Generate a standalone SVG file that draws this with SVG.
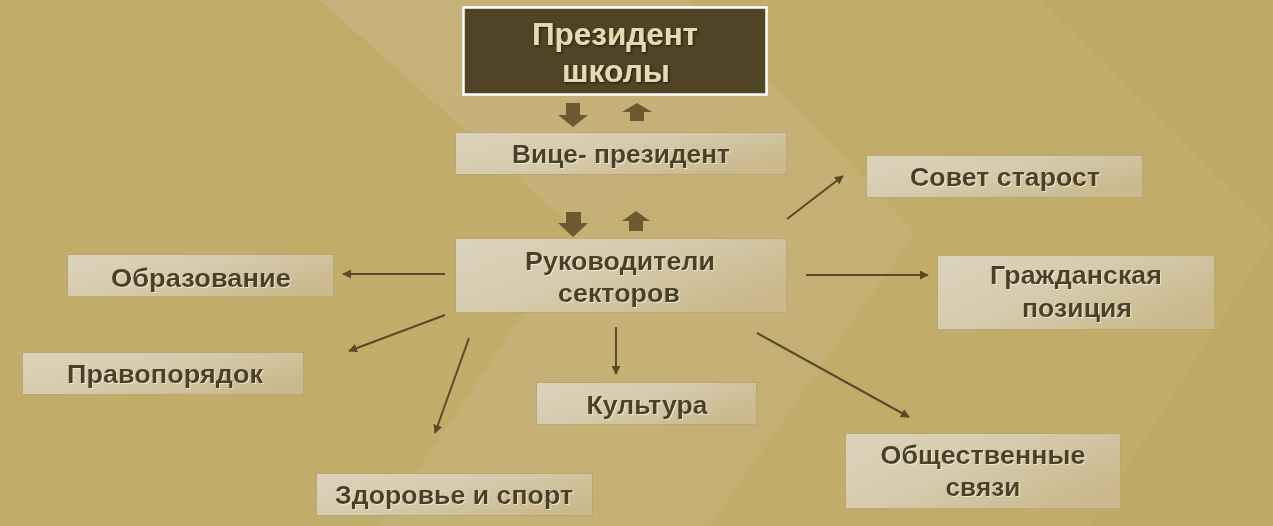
<svg xmlns="http://www.w3.org/2000/svg" width="1273" height="526" viewBox="0 0 1273 526">
<defs>
<linearGradient id="boxg" x1="0" y1="0" x2="1" y2="0.6">
<stop offset="0" stop-color="#DCD3BC"/>
<stop offset="0.5" stop-color="#D6CBAE"/>
<stop offset="1" stop-color="#CABA8E"/>
</linearGradient>
<linearGradient id="bandg" x1="0" y1="0" x2="1" y2="1">
<stop offset="0" stop-color="#C6B27A"/>
<stop offset="1" stop-color="#C4AF72"/>
</linearGradient>
<filter id="emb" x="-5%" y="-20%" width="110%" height="140%">
<feDropShadow dx="1" dy="1" stdDeviation="0.4" flood-color="#F4EEDC" flood-opacity="0.8"/>
</filter>
<filter id="glow" x="-5%" y="-20%" width="110%" height="140%">
<feDropShadow dx="1" dy="1" stdDeviation="0.8" flood-color="#1E180A" flood-opacity="1"/>
</filter>
<marker id="ah" viewBox="0 0 10 10" refX="9" refY="5" markerWidth="4.5" markerHeight="4.5" orient="auto" markerUnits="strokeWidth">
<path d="M0,0 L10,5 L0,10 Z" fill="#5A4A26"/>
</marker>
<style>
.box{fill:url(#boxg);stroke:#B9A771;stroke-width:1}
.t{font-family:"Liberation Sans",Arial,sans-serif;font-weight:bold;font-size:25px;fill:#4A4025;text-anchor:middle;filter:url(#emb)}
.pt{font-family:"Liberation Sans",Arial,sans-serif;font-weight:bold;font-size:31px;fill:#E5DBB0;text-anchor:middle;filter:url(#glow)}
.c{stroke:#5A4A26;stroke-width:2;fill:none;marker-end:url(#ah)}
.blk{fill:#6B5A2F}
</style>
</defs>
<rect x="0" y="0" width="1273" height="526" fill="#C1AC6A"/>
<polygon points="1040,0 1273,0 1273,526 1090,526 1273,238 1273,232" fill="#BBA564" opacity="0.35"/>
<polygon points="320,0 690,0 915,232 710,526 380,526 578,232" fill="url(#bandg)"/>

<g id="connectors">
<path class="blk" d="M566,103 H580 V115 H588 L573,127 L558,115 H566 Z"/>
<path class="blk" d="M630,121 V112 H622 L637,103 L652,112 H644 V121 Z"/>
<path class="blk" d="M566,212 H581 V223 H588 L573,237 L558,223 H566 Z"/>
<path class="blk" d="M629,231 V221 H622 L636,211 L650,221 H643 V231 Z"/>
<line class="c" x1="445" y1="274" x2="343" y2="274"/>
<line class="c" x1="445" y1="315" x2="349" y2="351"/>
<line class="c" x1="469" y1="338" x2="435" y2="433"/>
<line class="c" x1="616" y1="327" x2="616" y2="374"/>
<line class="c" x1="757" y1="333" x2="909" y2="417"/>
<line class="c" x1="806" y1="275" x2="928" y2="275"/>
<line class="c" x1="787" y1="219" x2="843" y2="176"/>
</g>

<g id="president">
<rect x="463.5" y="7.5" width="303" height="87" fill="#4F4426" stroke="#FFFFFF" stroke-width="2.5"/>
<text class="pt" x="615" y="45" textLength="166" lengthAdjust="spacingAndGlyphs">Президент</text>
<text class="pt" x="616" y="82" textLength="108" lengthAdjust="spacingAndGlyphs">школы</text>
</g>

<g id="vice">
<rect class="box" x="455.5" y="132.5" width="331" height="42"/>
<text class="t" x="621" y="163" textLength="218" lengthAdjust="spacingAndGlyphs">Вице- президент</text>
</g>

<g id="heads">
<rect class="box" x="455.5" y="238.5" width="331" height="74"/>
<text class="t" x="620" y="270" textLength="190" lengthAdjust="spacingAndGlyphs">Руководители</text>
<text class="t" x="619" y="302" textLength="122" lengthAdjust="spacingAndGlyphs">секторов</text>
</g>

<g id="council">
<rect class="box" x="866.5" y="155.5" width="276" height="42"/>
<text class="t" x="1005" y="186" textLength="190" lengthAdjust="spacingAndGlyphs">Совет старост</text>
</g>

<g id="civic">
<rect class="box" x="937.5" y="255.5" width="277" height="74"/>
<text class="t" x="1076" y="284" textLength="172" lengthAdjust="spacingAndGlyphs">Гражданская</text>
<text class="t" x="1077" y="317" textLength="110" lengthAdjust="spacingAndGlyphs">позиция</text>
</g>

<g id="education">
<rect class="box" x="67.5" y="254.5" width="266" height="42"/>
<text class="t" x="201" y="287" textLength="180" lengthAdjust="spacingAndGlyphs">Образование</text>
</g>

<g id="law">
<rect class="box" x="22.5" y="352.5" width="281" height="42"/>
<text class="t" x="165" y="383" textLength="196" lengthAdjust="spacingAndGlyphs">Правопорядок</text>
</g>

<g id="culture">
<rect class="box" x="536.5" y="382.5" width="220" height="42"/>
<text class="t" x="647" y="414" textLength="121" lengthAdjust="spacingAndGlyphs">Культура</text>
</g>

<g id="health">
<rect class="box" x="316.5" y="473.5" width="276" height="42"/>
<text class="t" x="454" y="504" textLength="238" lengthAdjust="spacingAndGlyphs">Здоровье и спорт</text>
</g>

<g id="public">
<rect class="box" x="845.5" y="433.5" width="275" height="75"/>
<text class="t" x="983" y="464" textLength="205" lengthAdjust="spacingAndGlyphs">Общественные</text>
<text class="t" x="983" y="496" textLength="75" lengthAdjust="spacingAndGlyphs">связи</text>
</g>
</svg>
